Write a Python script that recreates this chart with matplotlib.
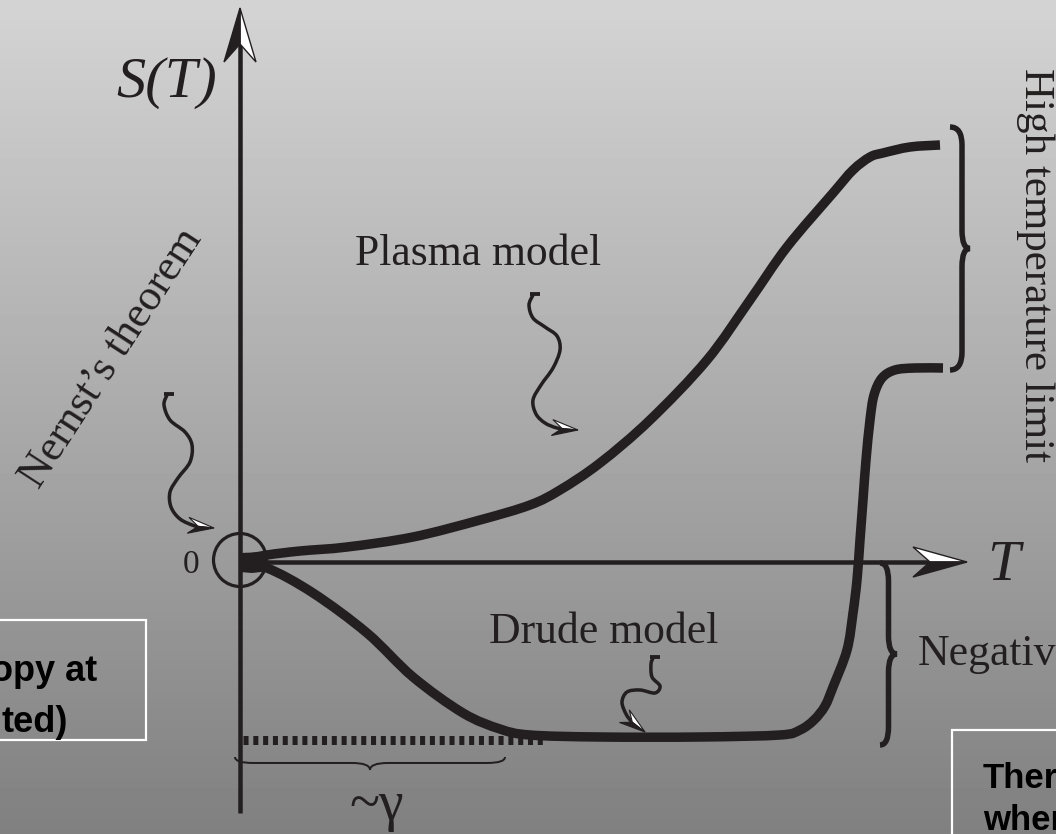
import numpy as np
import matplotlib
matplotlib.use("Agg")
import matplotlib.pyplot as plt
from matplotlib.path import Path
from matplotlib.patches import PathPatch, Polygon, Circle, Rectangle

# ---- schematic data (T, S) in drawing units: origin at T = 0, S = 0 ----
plasma_T = [0, 27, 60, 107, 173, 240, 290, 320, 360, 410, 467, 510, 547, 593, 613, 630, 643, 670, 700]
plasma_S = [2, 7, 11, 15, 25, 42, 57, 72, 99, 142, 202, 262, 315, 369, 392, 405, 409, 415, 417]

drude_T = [0, 27, 73, 127, 173, 223, 260, 290, 360, 460, 540, 560, 574, 585, 593, 607,
           613, 617, 620, 623, 626, 630, 634, 642, 655, 675, 703]
drude_S = [-3, -6, -31, -71, -115, -151, -167, -173, -175, -175, -173, -168, -158, -144, -125, -88,
           -51, -18, 22, 62, 102, 142, 167, 184, 192, 194, 194]

gamma_T = [3, 305]          # extent of the damping scale ~gamma
gamma_S = [-178, -178]      # Drude low-temperature plateau

# squiggly pointer paths (T, S)
nernst_ptr_T = [-73, -76, -70, -55, -48, -50, -62, -70, -69, -60, -45]
nernst_ptr_S = [167, 157, 142, 130, 117, 100, 84, 70, 55, 43, 36]
nernst_tip = (-26, 34)

plasma_ptr_T = [293, 289, 293, 305, 317, 320, 313, 301, 293, 296, 305, 317]
plasma_ptr_S = [267, 257, 244, 235, 226, 212, 194, 177, 162, 148, 139, 134]
plasma_tip = (338, 132)

drude_ptr_T = [413, 411, 412, 420, 415, 400, 387, 382, 386, 392]
drude_ptr_S = [-96, -102, -115, -124, -131, -128, -130, -140, -152, -160]
drude_tip = (405, -170)

INK = "#231f20"
PX = 72 / 100.0  # points per pixel at dpi 100

fig = plt.figure(figsize=(10.56, 8.34), dpi=100)
ax = fig.add_axes([0, 0, 1, 1])
ax.set_xlim(-240, 816)
ax.set_ylim(-272, 562)
ax.axis("off")

# vertical grey gradient backdrop
grad = np.linspace(212, 128, 256)[:, None] / 255.0
ax.imshow(grad, extent=(-240, 816, -272, 562), aspect="auto", cmap="gray",
          vmin=0, vmax=1, origin="upper", zorder=0, interpolation="bilinear")


def smooth(xs, ys):
    """Cubic Bezier path passing through the given points (Catmull-Rom handles)."""
    P = np.column_stack([xs, ys]).astype(float)
    n = len(P)
    verts = [P[0]]
    codes = [Path.MOVETO]
    for i in range(n - 1):
        p0 = P[i - 1] if i > 0 else P[i]
        p1, p2 = P[i], P[i + 1]
        p3 = P[i + 2] if i + 2 < n else P[i + 1]
        verts += [p1 + (p2 - p0) / 6.0, p2 - (p3 - p1) / 6.0, p2]
        codes += [Path.CURVE4] * 3
    return Path(verts, codes)


def draw_curve(xs, ys, lw, z=5):
    ax.add_patch(PathPatch(smooth(xs, ys), facecolor="none", edgecolor=INK, lw=lw,
                           capstyle="butt", joinstyle="round", zorder=z))


def harpoon(tip, tail, length, half_w, notch, black_on_left, lw=1.0):
    tip = np.asarray(tip, float)
    tail = np.asarray(tail, float)
    u = tip - tail
    u /= np.hypot(*u)
    n = np.array([-u[1], u[0]])
    wa = tip - length * u + half_w * n
    wb = tip - length * u - half_w * n
    nt = tip - notch * u
    wblack, wwhite = (wa, wb) if black_on_left else (wb, wa)
    ax.add_patch(Polygon([tip, wwhite, nt], closed=True, facecolor="white",
                         edgecolor=INK, lw=lw, joinstyle="miter", zorder=6))
    ax.add_patch(Polygon([tip, wblack, nt], closed=True, facecolor=INK,
                         edgecolor=INK, lw=lw, joinstyle="miter", zorder=7))


def brace(a, b, depth, normal, lw, shaft=0.5):
    a = np.asarray(a, float)
    b = np.asarray(b, float)
    L = np.hypot(*(b - a))
    t = (b - a) / L
    nv = np.asarray(normal, float)
    hs = shaft * depth
    r = min(18.0, L / 8)

    def P(s, h):
        return a + s * t + h * nv

    verts = [P(0, 0), P(0, hs), P(r, hs), P(L / 2 - r, hs), P(L / 2, hs), P(L / 2, depth),
             P(L / 2, hs), P(L / 2 + r, hs), P(L - r, hs), P(L, hs), P(L, 0)]
    codes = [Path.MOVETO, Path.CURVE3, Path.CURVE3, Path.LINETO, Path.CURVE3, Path.CURVE3,
             Path.CURVE3, Path.CURVE3, Path.LINETO, Path.CURVE3, Path.CURVE3]
    ax.add_patch(PathPatch(Path(verts, codes), facecolor="none", edgecolor=INK,
                           lw=lw, capstyle="butt", zorder=4))


# overlay note boxes running off the canvas edges
box_lw = 2.2 * PX
ax.add_patch(Rectangle((-252, -178), 158, 120, facecolor="none", edgecolor="white",
                       lw=box_lw, zorder=2))
ax.add_patch(Rectangle((712, -300), 130, 132, facecolor="none", edgecolor="white",
                       lw=box_lw, zorder=2))
sans = dict(family="Liberation Sans", weight="bold", color="black", zorder=3)
ax.text(-143, -119, "opy at", ha="right", va="baseline", fontsize=26, **sans)
ax.text(-172, -170, "ted)", ha="right", va="baseline", fontsize=26, **sans)
ax.text(743, -226, "Ther", ha="left", va="baseline", fontsize=25, **sans)
ax.text(743, -268, "wher", ha="left", va="baseline", fontsize=25, **sans)

# axes
axis_lw = 4.5 * PX
ax.plot([0, 0], [-251, 522], color=INK, lw=axis_lw, solid_capstyle="butt", zorder=3)
ax.plot([0, 692], [0, 0], color=INK, lw=axis_lw, solid_capstyle="butt", zorder=3)
harpoon((0, 554), (0, 0), 54, 16, 36, black_on_left=True)
harpoon((727, 0), (0, 0), 54, 15, 37, black_on_left=False)

# model curves
curve_lw = 9.5 * PX
draw_curve(plasma_T, plasma_S, curve_lw)
draw_curve(drude_T, drude_S, curve_lw)
ax.add_patch(Polygon([(0, 9), (26, 10), (30, -9), (12, -11), (0, -10)], closed=True,
                     facecolor=INK, edgecolor="none", zorder=5))

# ~gamma dotted plateau
dot, = ax.plot(gamma_T, gamma_S, color=INK, lw=9 * PX, zorder=4)
dot.set_dashes([0.56, 0.53])
dot.set_dash_capstyle("butt")

# origin circle
ax.add_patch(Circle((0, 2), 26.5, facecolor="none", edgecolor=INK, lw=3.2 * PX, zorder=6))

# braces
brace((-5, -195), (265, -195), 13, (0, -1), lw=2.0 * PX, shaft=0.46)
brace((640, -1), (640, -183), 17, (1, 0), lw=5.5 * PX, shaft=0.5)
brace((710, 435), (710, 192), 20, (1, 0), lw=5.5 * PX, shaft=0.6)

# squiggly pointers
ptr_lw = 3.5 * PX
for xs, ys, tip in [(nernst_ptr_T, nernst_ptr_S, nernst_tip),
                    (plasma_ptr_T, plasma_ptr_S, plasma_tip),
                    (drude_ptr_T, drude_ptr_S, drude_tip)]:
    ex = tip[0] - 0.5 * (tip[0] - xs[-1])
    ey = tip[1] - 0.5 * (tip[1] - ys[-1])
    draw_curve(xs + [ex], ys + [ey], ptr_lw)
    ax.plot([xs[0] - 3, xs[0] + 7], [ys[0] + 1.5, ys[0] + 1.5], color=INK, lw=ptr_lw * 1.1,
            solid_capstyle="butt", zorder=5)
    harpoon(tip, (xs[-1], ys[-1]), 26, 8, 16, black_on_left=False, lw=0.8)

# labels
serif = dict(family="Liberation Serif", color=INK, zorder=8)
ax.text(-73, 465, "S(T)", ha="center", va="baseline", fontsize=42, style="italic", **serif)
ax.text(763, -18, "T", ha="center", va="baseline", fontsize=42, style="italic", **serif)
ax.text(-49, -11, "0", ha="center", va="baseline", fontsize=24, **serif)
ax.text(238, 297, "Plasma model", ha="center", va="baseline", fontsize=31.5, **serif)
ax.text(364, -81, "Drude model", ha="center", va="baseline", fontsize=31.5, **serif)
ax.text(678, -103, "Negativ", ha="left", va="baseline", fontsize=31.5, **serif)
ax.text(795, 297, "High temperature limit", ha="center", va="center", rotation=-90,
        fontsize=31, **serif)
ax.text(-129, 204, "Nernst\u2019s theorem", ha="center", va="center", rotation=57,
        fontsize=31.5, **serif)
ax.text(137, -258, "~\u03b3", ha="center", va="baseline", fontsize=40, **serif)

fig.savefig("out.png", dpi=100)
